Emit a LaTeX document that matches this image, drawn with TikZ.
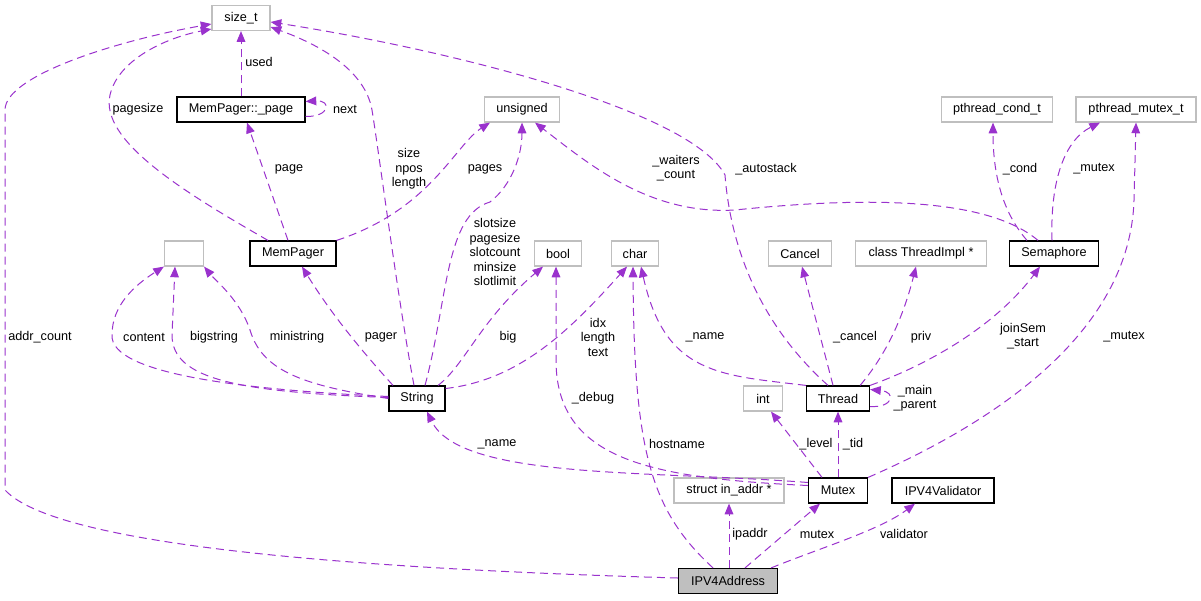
\documentclass[tikz,border=0pt]{standalone}
\usepackage{fontspec}
\setmainfont{Liberation Sans}
\usetikzlibrary{arrows.meta}
\definecolor{edgepurple}{HTML}{9A32CD}
\definecolor{boxgrey}{HTML}{BFBFBF}

\begin{document}
\begin{tikzpicture}[
    x=0.75pt, y=-0.75pt,
    >={Triangle[length=8pt,width=6.5pt]},
    font=\fontsize{9.5}{10.9}\selectfont,
    klass/.style={
		rectangle,
		draw=black,
		line width=0.9pt,
		inner xsep=2pt,
		minimum height=18.75pt,
		text centered,
		fill=white
	},
	extern/.style={
		klass,
		draw=boxgrey
	},
	focus/.style={
		klass,
		fill=boxgrey
	},
	member/.style={
		align=center,
		inner sep=0pt
	},
	uses/.style={
		->,
		draw=edgepurple,
		line width=0.75pt,
		dash pattern=on 6pt off 3.75pt
	}
  ]
  \useasboundingbox (0,0) rectangle (1201,600);

  % We start by placing the blocks
  \node [extern, minimum width=43.5pt] (sizet) at (241,18) {size\_t};
  \node [klass, minimum width=96pt] (page) at (241,109.5) {MemPager::\_page};
  \node [extern, minimum width=56.25pt] (unsig) at (522,109.5) {unsigned};
  \node [extern, minimum width=83.25pt] (pcond) at (997,109.5) {pthread\_cond\_t};
  \node [extern, minimum width=90pt] (pmutex) at (1136,109.5) {pthread\_mutex\_t};

  \node [extern, minimum width=29.25pt] (anon) at (184,253.5) {};
  \node [klass, minimum width=64.5pt] (mempager) at (293,253.5) {MemPager};
  \node [extern, minimum width=35.25pt] (boolt) at (558,253.5) {bool};
  \node [extern, minimum width=35.25pt] (chart) at (635,253.5) {char};
  \node [extern, minimum width=47.25pt] (cancel) at (800,253.5) {Cancel};
  \node [extern, minimum width=98.25pt] (timpl) at (921,253.5) {class ThreadImpl *};
  \node [klass, minimum width=66.75pt] (sema) at (1054,253.5) {Semaphore};

  \node [klass, minimum width=42pt] (str) at (417,398.5) {String};
  \node [extern, minimum width=29.25pt] (intt) at (763,398.5) {int};
  \node [klass, minimum width=47.25pt] (thread) at (838,398.5) {Thread};

  \node [extern, minimum width=82.5pt] (inaddr) at (729,490.5) {struct in\_addr *};
  \node [klass, minimum width=44.25pt] (mutex) at (838,490.5) {Mutex};
  \node [klass, minimum width=76.5pt] (valid) at (943,490.5) {IPV4Validator};

  \node [focus, minimum width=74.25pt] (ipv4) at (728,581) {IPV4Address};

  % members of IPV4Address
  \draw [uses] ([shift={(0,-3)}]ipv4.west) .. controls (400,570) and (60,550) .. (5,490)
     -- (5,110) .. controls (5,75) and (120,40) .. ([shift={(0,6)}]sizet.west);
  \draw [uses] ([shift={(-15,0)}]ipv4.north) .. controls (650,510) and (634,450) .. ([shift={(-2,0)}]chart.south);
  \draw [uses] ([shift={(1,0)}]ipv4.north) -- (inaddr.south);
  \draw [uses] ([shift={(17,0)}]ipv4.north) -- ([shift={(-18,0)}]mutex.south);
  \draw [uses] ([shift={(-7,0)}]ipv4.north east) .. controls (820,548) and (880,530) .. ([shift={(-28,0)}]valid.south);

  % members of Mutex
  \draw [uses] ([shift={(0,-5)}]mutex.west) .. controls (650,478) and (556,460) .. (556,360) -- ([shift={(-2,0)}]boolt.south);
  \draw [uses] ([shift={(0,-8)}]mutex.west) .. controls (650,470) and (460,480) .. ([shift={(10,0)}]str.south);
  \draw [uses] ([shift={(-16,0)}]mutex.north) -- ([shift={(8,0)}]intt.south);
  \draw [uses] (mutex.north) -- (thread.south);
  \draw [uses] (mutex.north east) .. controls (1000,420) and (1130,330) .. (1134,200) -- (pmutex.south);

  % members of Thread
  \draw [uses] ([shift={(-10,0)}]thread.north) .. controls (755,320) and (730,240) .. (725,175)
     .. controls (690,110) and (450,50) .. ([shift={(0,4)}]sizet.east);
  \draw [uses] (thread.north west) .. controls (720,375) and (665,375) .. ([shift={(6,0)}]chart.south);
  \draw [uses] ([shift={(-5,0)}]thread.north) -- ([shift={(2,0)}]cancel.south);
  \draw [uses] ([shift={(-10,0)}]thread.north east) .. controls (890,350) and (905,310) .. ([shift={(-5,0)}]timpl.south);
  \draw [uses] (thread.north east) .. controls (940,360) and (1000,320) .. ([shift={(-14,0)}]sema.south);
  \draw [uses] ([shift={(0,8)}]thread.east) .. controls (893,408) and (897,392) .. ([shift={(0,-9)}]thread.east);

  % members of Semaphore
  \draw [uses] ([shift={(-16,0)}]sema.north) .. controls (990,200) and (880,195) .. (735,210)
     .. controls (650,215) and (590,165) .. ([shift={(13,0)}]unsig.south);
  \draw [uses] ([shift={(-27,0)}]sema.north) .. controls (1005,215) and (993,180) .. ([shift={(-4,0)}]pcond.south);
  \draw [uses] ([shift={(-2,0)}]sema.north) .. controls (1050,180) and (1065,140) .. ([shift={(-36,0)}]pmutex.south);

  % members of String
  \draw [uses] ([shift={(0,-2)}]str.west) .. controls (250,390) and (110,375) .. (112,335)
     .. controls (112,305) and (135,285) .. (anon.south west);
  \draw [uses] ([shift={(0,-1)}]str.west) .. controls (240,392) and (172,380) .. (172,335) -- ([shift={(-9,0)}]anon.south);
  \draw [uses] (str.west) .. controls (300,385) and (262,370) .. (250,330)
     .. controls (240,300) and (215,280) .. (anon.south east);
  \draw [uses] ([shift={(-24,0)}]str.north) .. controls (370,360) and (335,320) .. ([shift={(9,0)}]mempager.south);
  \draw [uses] ([shift={(-3,0)}]str.north) .. controls (398,300) and (380,160) .. (372,110)
     .. controls (365,70) and (320,45) .. ([shift={(0,9)}]sizet.east);
  \draw [uses] ([shift={(8,0)}]str.north) .. controls (448,300) and (445,215) .. (490,202)
     .. controls (512,185) and (522,155) .. (unsig.south);
  \draw [uses] ([shift={(21,0)}]str.north) .. controls (465,365) and (480,320) .. ([shift={(-15,0)}]boolt.south);
  \draw [uses] ([shift={(0,-10)}]str.east) .. controls (520,380) and (570,330) .. ([shift={(-8,0)}]chart.south);

  % members of MemPager and MemPager::_page
  \draw [uses] ([shift={(-25,0)}]mempager.north) .. controls (180,190) and (100,140) .. (110,95)
     .. controls (118,60) and (165,38) .. ([shift={(0,11)}]sizet.west);
  \draw [uses] ([shift={(-5,0)}]mempager.north) -- ([shift={(6,0)}]page.south);
  \draw [uses] (mempager.north east) .. controls (430,210) and (455,145) .. ([shift={(-32,0)}]unsig.south);
  \draw [uses] (page.north) -- (sizet.south);
  \draw [uses] ([shift={(0,7)}]page.east) .. controls (330,117) and (332,100) .. ([shift={(0,-8)}]page.east);

  % labels
  \node [member] (laddr) at (40,337) {addr\_count};
  \node [member] (lpagesize) at (138,109) {pagesize};
  \node [member] (lused) at (259,62) {used};
  \node [member] (lnext) at (345,109) {next};
  \node [member] (lpage) at (289,169) {page};
  \node [member] (lsize) at (409,169) {size\\npos\\length};
  \node [member] (lpages) at (485,169) {pages};
  \node [member] (lwaiters) at (676,168) {\_waiters\\\_count};
  \node [member] (lautostack) at (766,169) {\_autostack};
  \node [member] (lcond) at (1020,169) {\_cond};
  \node [member] (lsmutex) at (1094,169) {\_mutex};
  \node [member] (lslot) at (495,252) {slotsize\\pagesize\\slotcount\\minsize\\slotlimit};
  \node [member] (lcontent) at (144,337) {content};
  \node [member] (lbigstring) at (214,337) {bigstring};
  \node [member] (lministring) at (297,337) {ministring};
  \node [member] (lpager) at (381,337) {pager};
  \node [member] (lbig) at (508,337) {big};
  \node [member] (lidx) at (598,337) {idx\\length\\text};
  \node [member] (ltname) at (705,337) {\_name};
  \node [member] (lcancel) at (855,337) {\_cancel};
  \node [member] (lpriv) at (921,337) {priv};
  \node [member] (ljoin) at (1023,336) {joinSem\\\_start};
  \node [member] (lmmutex) at (1124,337) {\_mutex};
  \node [member] (lmainpar) at (915,398) {\_main\\\_parent};
  \node [member] (ldebug) at (593,398) {\_debug};
  \node [member] (lhostname) at (677,444) {hostname};
  \node [member] (lmname) at (497,444) {\_name};
  \node [member] (llevel) at (816,444) {\_level};
  \node [member] (ltid) at (853,444) {\_tid};
  \node [member] (lipaddr) at (750,534) {ipaddr};
  \node [member] (lmutex) at (817,534) {mutex};
  \node [member] (lvalid) at (904,534) {validator};

\end{tikzpicture}
\end{document}
